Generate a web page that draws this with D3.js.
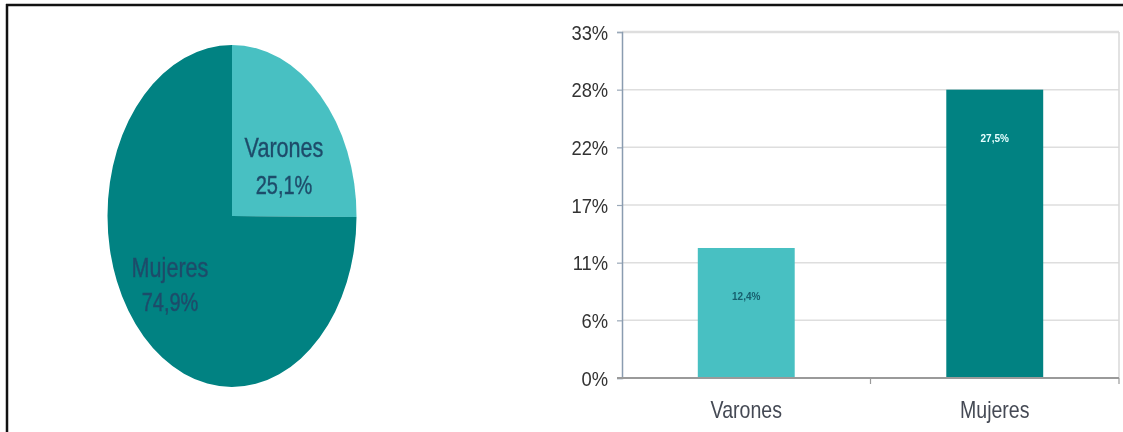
<!DOCTYPE html>
<html>
<head>
<meta charset="utf-8">
<script src="https://cdn.jsdelivr.net/npm/d3@7"></script>
<style>
  html, body { margin: 0; padding: 0; background: #fff; }
  svg { display: block; }
  text { font-family: "Liberation Sans", Arial, sans-serif; }
</style>
</head>
<body>
<svg id="chart" width="1123" height="432"></svg>
<script>
// Distribución por sexo (pie) y porcentaje por sexo (barras)
const categories = ["Varones", "Mujeres"];
const pieValues = [25.1, 74.9];
const barValues = [12.4, 27.5];
const yTicks = [0, 5.5, 11, 16.5, 22, 27.5, 33];
const yMax = 33;

const lightTeal = "#48c0c2";
const darkTeal = "#018282";
const labelNavy = "#1f4c6a";

const svg = d3.select("#chart");
const fmt = v => String(v.toFixed(1)).replace(".", ",") + "%";

// soft blur for the text
const defs = svg.append("defs");
defs.append("filter").attr("id", "soft")
  .append("feGaussianBlur").attr("stdDeviation", 0.5);

// outer frame (top and left edges)
svg.append("line").attr("x1", 6).attr("x2", 1123).attr("y1", 5).attr("y2", 5)
  .attr("stroke", "#111").attr("stroke-width", 2.5);
svg.append("line").attr("x1", 7).attr("x2", 7).attr("y1", 4).attr("y2", 432)
  .attr("stroke", "#111").attr("stroke-width", 2.5);

// ---------- pie ----------
const pieCx = 232, pieCy = 216, rx = 124.5, ry = 171;
const pie = d3.pie().sort(null).startAngle(0).endAngle(2 * Math.PI);
const arc = d3.arc().innerRadius(0).outerRadius(1);
const pieG = svg.append("g")
  .attr("transform", `translate(${pieCx},${pieCy}) scale(${rx},${ry})`);
pieG.selectAll("path").data(pie(pieValues)).join("path")
  .attr("d", arc)
  .attr("fill", (d, i) => i === 0 ? lightTeal : darkTeal);

const pieLabelPos = [
  { x: 284, y1: 157, y2: 194 },
  { x: 170, y1: 277, y2: 311 }
];
const pieLabels = svg.append("g").attr("filter", "url(#soft)");
categories.forEach((c, i) => {
  const p = pieLabelPos[i];
  const g = pieLabels.append("g").attr("transform", `translate(${p.x},0) scale(0.8,1)`);
  g.append("text").attr("y", p.y1).attr("text-anchor", "middle")
    .attr("font-size", 27).attr("fill", labelNavy)
    .attr("stroke", labelNavy).attr("stroke-width", 0.4).text(c);
  g.append("text").attr("y", p.y2).attr("text-anchor", "middle")
    .attr("font-size", 25).attr("fill", labelNavy)
    .attr("stroke", labelNavy).attr("stroke-width", 0.4).text(fmt(pieValues[i]));
});

// ---------- bars ----------
const plot = { left: 622, right: 1119, top: 32, bottom: 378 };
const x = d3.scaleBand().domain(categories).range([plot.left, plot.right])
  .paddingInner(0.61).paddingOuter(0.305);
const y = d3.scaleLinear().domain([0, yMax]).range([plot.bottom, plot.top]);

// gridlines
svg.append("g").selectAll("line").data(yTicks.filter(t => t > 0)).join("line")
  .attr("x1", plot.left).attr("x2", plot.right)
  .attr("y1", d => y(d)).attr("y2", d => y(d))
  .attr("stroke", "#dedede").attr("stroke-width", d => d === yMax ? 2.5 : 1.5);
// right edge of plot area
svg.append("line").attr("x1", plot.right).attr("x2", plot.right)
  .attr("y1", plot.top).attr("y2", plot.bottom)
  .attr("stroke", "#d8d8d8").attr("stroke-width", 1.5);

// bars
svg.append("g").selectAll("rect").data(barValues).join("rect")
  .attr("x", (d, i) => x(categories[i]))
  .attr("width", x.bandwidth())
  .attr("y", d => y(d))
  .attr("height", d => y(0) - y(d))
  .attr("fill", (d, i) => i === 0 ? lightTeal : darkTeal);

// value labels inside the bars
svg.append("g").attr("filter", "url(#soft)").selectAll("text").data(barValues).join("text")
  .attr("x", (d, i) => x(categories[i]) + x.bandwidth() / 2)
  .attr("y", d => y(d) + 52)
  .attr("text-anchor", "middle")
  .attr("font-size", 10)
  .attr("font-weight", "bold")
  .attr("fill", (d, i) => i === 0 ? "#17606e" : "#e6ffff")
  .text(d => fmt(d));

// y axis
const yAxis = d3.axisLeft(y).tickValues(yTicks).tickSize(5)
  .tickFormat(d => Math.round(d) + "%");
const yG = svg.append("g").attr("transform", `translate(${plot.left},0)`).call(yAxis);
yG.select(".domain").attr("stroke", "#8a9cb0").attr("stroke-width", 1.5);
yG.selectAll(".tick line").attr("stroke", "#9aa8b8").attr("stroke-width", 1.2);
yG.selectAll(".tick text").attr("font-size", 20).attr("fill", "#333")
  .attr("x", -15).attr("dy", "0.36em")
  .attr("font-family", "'Liberation Sans', Arial, sans-serif")
  .attr("filter", "url(#soft)")
  .attr("transform", "scale(0.92,1)");

// baseline and category separators
svg.append("line").attr("x1", plot.left - 5).attr("x2", plot.right)
  .attr("y1", y(0)).attr("y2", y(0))
  .attr("stroke", "#9a9a9a").attr("stroke-width", 2);
const seps = [plot.left + (plot.right - plot.left) / 2, plot.right];
svg.append("g").selectAll("line").data(seps).join("line")
  .attr("x1", d => d).attr("x2", d => d)
  .attr("y1", y(0)).attr("y2", y(0) + 6)
  .attr("stroke", "#9a9a9a").attr("stroke-width", 1.2);

// category labels
svg.append("g").attr("filter", "url(#soft)").selectAll("g").data(categories).join("g")
  .attr("transform", d => `translate(${x(d) + x.bandwidth() / 2},0) scale(0.85,1)`)
  .append("text")
  .attr("y", 418).attr("text-anchor", "middle")
  .attr("font-size", 23).attr("fill", "#454a54")
  .text(d => d);
</script>
</body>
</html>
